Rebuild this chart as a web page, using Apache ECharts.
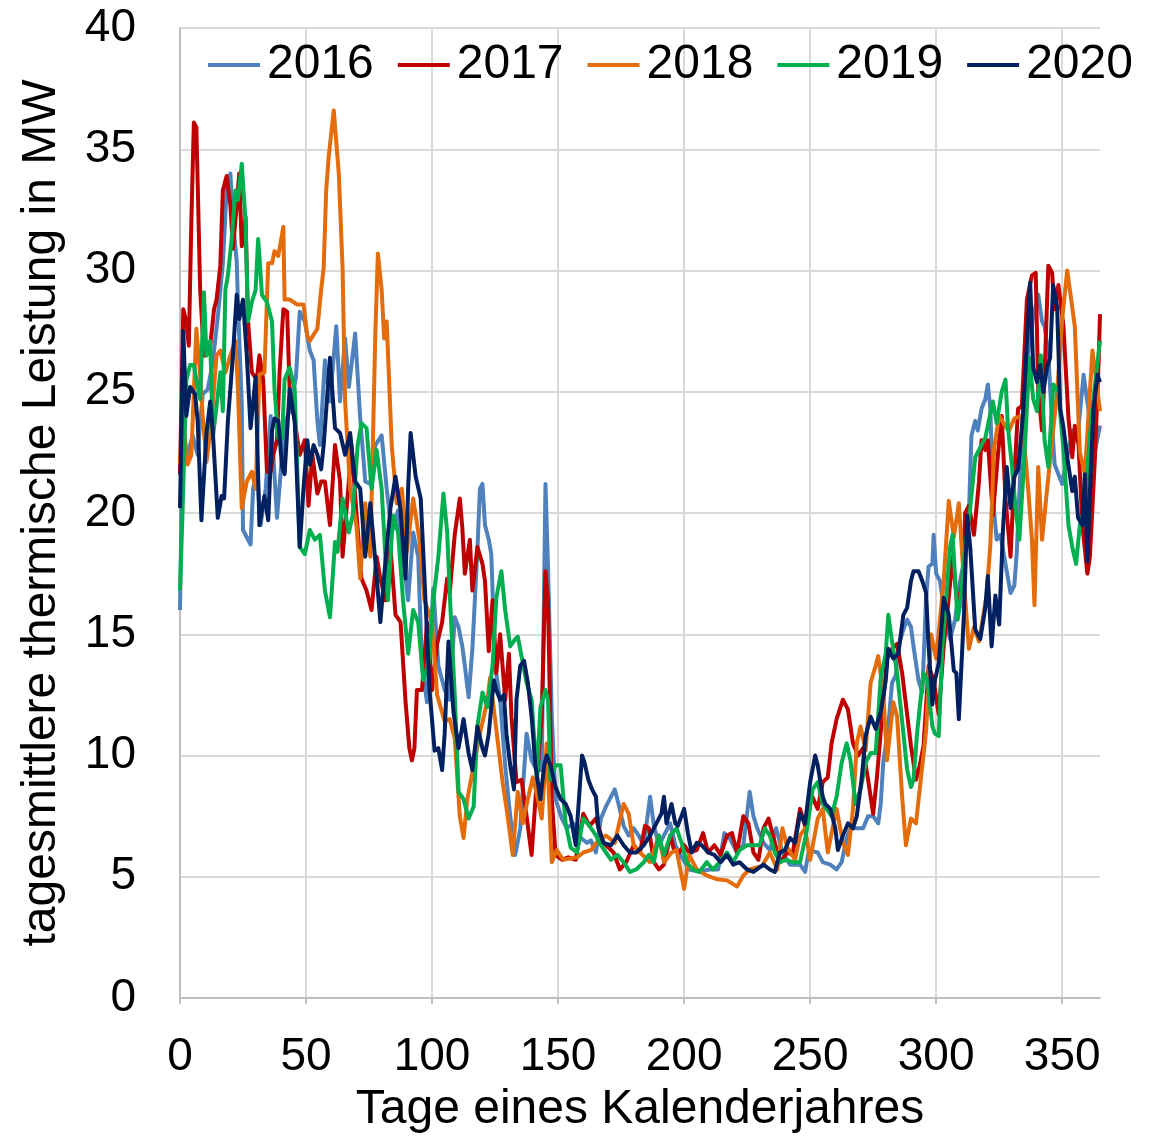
<!DOCTYPE html>
<html>
<head>
<meta charset="utf-8">
<script src="https://cdn.jsdelivr.net/npm/echarts@6/dist/echarts.min.js"></script>
<style>
  html, body { margin: 0; padding: 0; background: #fff; }
  #chart { width: 1155px; height: 1139px; }
</style>
</head>
<body>
<div id="chart"></div>
<script>
// day of year -> daily mean thermal power (MW)
var years = ['2016', '2017', '2018', '2019', '2020'];
var colors = ['#4f81bd', '#c00000', '#e46c0a', '#00b050', '#002060'];
var xTicks = [0, 50, 100, 150, 200, 250, 300, 350];

var s2016 = [[0,16],[1,23.1],[3,22.4],[5,23.2],[7,22.4],[9,24.9],[11,25.1],[13,26.2],[15,28.1],[17,30.3],[18.5,33.3],[20,34],[21,32],[22.5,30.4],[23,28.6],[24.5,24.5],[25,19.3],[26.5,19],[28,18.7],[29,21],[30.5,21.7],[32,19.5],[34,21],[36,24],[37,22.4],[38.5,19.8],[40.5,22.4],[42,23.8],[44,24.4],[46,25.6],[47.5,28.3],[49.5,27.9],[51.5,26.7],[53,26.3],[54.5,23.8],[55.5,22.8],[57.5,26.3],[59.5,24.6],[62,27.7],[63.5,24.6],[65.5,27.2],[67,25.2],[69.5,27.4],[71.5,23.9],[73.5,21.3],[75.5,21.2],[77.5,22.8],[80,23.2],[82,21],[84,19.2],[86.5,20.1],[88.5,18.2],[90.5,16.4],[92.5,19.2],[94.5,18.2],[96,13.7],[98,12.2],[100.5,16.9],[102.5,13.7],[105,12.7],[107,12.3],[109,15.7],[110.5,15.3],[112,14.5],[113,13.7],[114.5,12.4],[116,14.4],[118,18.5],[119,21],[120,21.2],[121,19.5],[122.5,18.9],[123.5,18.3],[125,13.7],[127,12.3],[129,9.6],[131,7.5],[133,5.9],[135,7],[137.5,10.9],[139.5,9.8],[141.5,9.4],[143.5,9.4],[145,21.2],[146,17.8],[147.5,11.6],[149,8.2],[151.5,7.4],[153.5,7],[156,7.2],[159,6.6],[161.5,6.4],[163,6.5],[165,6],[167,7.4],[169,7.9],[172.5,8.6],[174,8],[176,7.1],[178,6.7],[180,7],[182,6.7],[184,6.3],[186.5,8.3],[188,7.1],[190,6.3],[192,6.7],[194.5,7.2],[196.5,6.3],[198.5,5.9],[202,5.3],[206,5.2],[210,5.3],[213.5,5.3],[216,6.8],[218,6.6],[221,6],[223.5,6.3],[226,8.5],[227.5,7.5],[229,7],[231.5,6.4],[234,6.1],[236.5,7],[239,6],[242,5.5],[246,5.5],[248,5.2],[249.5,6.1],[253,6],[255,5.6],[258,5.5],[260.5,5.3],[262.5,5.6],[264.5,6.6],[266,7],[268.5,7],[271,7],[273,7.5],[275,7.5],[277,7.2],[278,8],[279,9.7],[281,11.2],[282.5,13],[284,13.3],[285,14.5],[287,15.2],[288.5,15.6],[290,15.3],[291,14.5],[293,13.1],[294.5,12.6],[296,16.5],[297,17.8],[298.5,17.9],[299,19.1],[300,17.5],[301.5,17.2],[303.5,15.8],[305.5,14.8],[307.5,15.6],[309.5,17.2],[311,18],[313,20],[314,23.2],[315.5,23.8],[316.5,23.4],[318,24.3],[319.5,24.7],[320.5,25.3],[321.5,24.3],[322.5,20.6],[324,18.9],[325.5,19.1],[327.5,17.9],[329.5,16.7],[331,17],[332,18.4],[334.5,24.4],[336.5,26.6],[338.5,28.1],[340.5,29],[342,27.9],[343,27.7],[344.5,26.6],[346,23.6],[347,22],[348.5,21.6],[350,21.2],[352,22.3],[354,23.4],[356,23],[358.5,25.7],[360.5,24.2],[362.5,22.3],[365,23.6]];

var s2017 = [[0,21.6],[1.3,28.4],[2.5,27.9],[3.5,26.9],[4.5,32],[5.5,36.1],[6.5,35.9],[8,29.2],[9.5,26.5],[10.5,26.5],[12,26.9],[13.5,28.4],[14.5,28.8],[16,30.2],[17,33.3],[18.5,33.9],[20,32.7],[21,30.9],[22.5,32.7],[23.5,34],[24.5,31],[26,32.2],[27,27.9],[28.5,25.8],[30.5,25.5],[31.5,26.5],[33,25.5],[34.5,21.7],[36,21.7],[37,22.4],[38.5,23],[39.5,25.8],[41,28.4],[42.5,28.3],[43.5,25.1],[45.5,23.8],[47.5,22.4],[49.5,23],[51,20.3],[52.5,22.4],[54.5,20.8],[56,21.3],[57.5,21.3],[59.5,19.5],[61.5,22.8],[63.5,21.3],[64.5,18.2],[67,21.3],[68,22.8],[70,20],[72,17.3],[74,16.8],[76,16],[78,18.2],[79.5,17.3],[81.5,16.4],[83.5,18.6],[85.5,15.8],[87.5,15.5],[89.5,12.2],[91,10.3],[92,9.8],[93,10.3],[94,12.7],[96,12.7],[98,15.5],[100,12.7],[102,14.6],[104,15.5],[106,17.3],[107,16.7],[109,19.1],[111,20.6],[112,19.4],[113,17.5],[115,18.9],[116,16.8],[118,18.6],[120,17.9],[121,17.2],[122.5,14.3],[124,16.4],[125.5,13.4],[127,15],[129,12.3],[130.5,14.2],[131.5,11.6],[133.5,8.9],[135.5,9],[137.5,7.5],[139.5,5.9],[141.5,8.9],[143.5,11.6],[145,17.6],[146,16.4],[147.5,8.2],[149,5.9],[151.5,5.7],[154,5.8],[157,5.7],[160,7.6],[162.5,7.1],[165,7.4],[168,6.4],[172,6],[174.5,5.3],[177,5.6],[180,6.3],[182.5,6],[184.5,7.1],[186,7],[188,5.6],[190,5.3],[192,5.5],[194.5,6.7],[196,6.1],[198,6],[200,6.3],[202,6],[205,6.1],[207.5,6.8],[209.5,6],[212,6.3],[214.5,5.9],[217,6.7],[219,6.8],[221,6],[223.5,7.5],[225.5,7.2],[227.5,6],[229.5,5.7],[231.5,7],[233.5,7.4],[236,6.4],[238,5.6],[241,6],[243,5.9],[246,7.8],[248,7.1],[250,8.5],[253,7.8],[255,8.9],[257,9.1],[258.5,10.5],[260.5,11.5],[263,12.3],[265,11.9],[267,10.5],[269,10],[271,10.3],[273,9],[275,7.6],[276.5,9.1],[278.5,11.6],[280.5,14],[282.5,14.4],[284.5,14.6],[286.5,13.4],[288,12.1],[290,10.4],[292,9],[293.5,9.6],[295,10.4],[297,13.7],[299,13.1],[301,11.7],[303,14.5],[305,16.5],[306.5,18.2],[308.5,16.1],[310.5,17.2],[311.5,20],[313,20.3],[315,19.1],[317,21.3],[318,23],[319.5,22.6],[320.5,23],[322.5,19.9],[324.5,22.4],[326,24],[327.5,20.6],[329.5,18.2],[331,21.5],[332.5,24.3],[334,24.4],[336,28.8],[338,29.8],[339.5,29.9],[340.5,25],[342,23.4],[343,25.7],[344.5,30.2],[346,29.9],[347,28.4],[348.5,29.4],[350.5,27.7],[352.5,23.9],[354,22.3],[355,23.6],[356.5,22.8],[358,19.5],[360,17.5],[361,18.2],[363,22.3],[364.5,26.4],[365,28.2]];

var s2018 = [[0,22],[1.3,23.8],[3,22],[4.5,22.4],[6.5,27.6],[8,25.7],[9,24],[10.5,22.1],[12.5,23.8],[14.5,26.5],[16,26.7],[18,25.8],[20,26.5],[22,27.1],[23,25.1],[24.5,20.2],[26.5,21.3],[28.5,21.7],[30,21],[31.5,25.7],[33.5,25.8],[35,30.3],[36.5,30.3],[37.5,30.8],[39,30.6],[41,31.8],[41.5,28.8],[43.5,28.8],[46.5,28.6],[49,28.6],[50.5,27.3],[51.5,27.1],[54.5,27.6],[56,29.2],[57,30.1],[58,33.3],[59,34.7],[61,36.6],[63,34],[64.5,30.1],[65.5,24.6],[67.5,21],[70,19.5],[71.5,17.3],[73.5,20.4],[75.5,18.2],[77.5,27.4],[78.5,30.7],[80,29.2],[81,27.2],[82,27.9],[84,22.8],[86,20.4],[88,21],[90,18.4],[92.5,20.6],[95,18.9],[97,16.4],[100,15.5],[102,12.5],[105,11.4],[107,11.5],[109,10.7],[111,7.5],[112.5,6.6],[114,8.2],[116,9.3],[119,10.9],[122,12.3],[123,13.2],[125,11.5],[128,8.9],[130,7.5],[132,5.9],[134,8.5],[136,7.2],[138,8.2],[140,9.1],[142,8.2],[143.5,7.4],[145.5,10.5],[147.5,5.6],[149.5,6.1],[152,5.7],[157.5,5.8],[160,6],[163,6.1],[166,6.5],[169,6.7],[172.5,6.4],[176,8],[178,7.6],[180,6.3],[182.5,6],[186.5,5.6],[190,6.7],[192,5.6],[195,6],[197,6.1],[200,4.5],[202,5.9],[205,5.3],[209,5.05],[213,4.9],[217,4.85],[221,4.6],[223.5,5.05],[226,5.3],[231,5.45],[234,6],[237,5.3],[239,7],[241,6.2],[244,5.7],[246,6.7],[248,7],[250,5.7],[253,7.4],[255,7.8],[257,6],[258.5,6.8],[260.5,7.8],[263,6.4],[265,5.9],[267,7.8],[268.5,10.5],[270,11.2],[272,10.2],[274,13],[276,13.7],[277,14.1],[279,12.6],[280.5,9.8],[283,12.2],[284.5,11.6],[286.5,8.3],[288,6.3],[290,7.4],[292,7.2],[296,11],[298,15],[300,14],[303,17.2],[305,20.5],[307,19],[309,20.4],[311,17.2],[313,14.4],[315,15.3],[317,14.7],[320,16.6],[321.5,18.7],[323,22.7],[325,24],[328,23.5],[329,23.4],[331,23.9],[334,24],[336.5,21],[338,18.9],[339,16.2],[340.5,21.9],[342,18.9],[345,22],[348,25],[350,28],[352,30],[355,27.7],[357,22.5],[359,21.6],[362,26.7],[365,24.2]];

var s2019 = [[0,16.8],[1,20],[2.5,25.5],[4,26.1],[5.5,26.1],[6.5,25.5],[8,24.7],[9.5,29.1],[10.5,26.5],[12,27.1],[13,23.1],[14.5,24.4],[16,25.8],[17,24.2],[18,29.2],[19,29.8],[20.5,31.3],[22,33.3],[23,32.9],[24.5,34.4],[26,32],[27,27.9],[28.5,28.7],[30,29.2],[31,31.3],[31.5,30.6],[32.5,29],[34.5,28.7],[36.5,27.9],[37.5,25.1],[39,23.1],[40.5,23.1],[41.5,25.5],[43.5,26],[45.5,25.1],[47.5,18.6],[49.5,18.3],[51.5,19.3],[53.5,18.9],[55.5,19.1],[57.5,16.8],[59.5,15.7],[61.5,18.8],[62.5,18.4],[64.5,20.6],[67,19.2],[68.5,19.9],[70.5,22.8],[72,23.7],[74,23.5],[76,21],[78,22.6],[80,21],[81.5,18.2],[82.5,16.4],[84.5,19.9],[86.5,19.2],[88.5,16.4],[90.5,14.2],[92.5,16],[94.5,15.5],[96.5,13.1],[98.5,13.7],[100.5,16.4],[102.5,18.2],[104.5,20.8],[106,19.2],[107,16.7],[109,12.5],[110.5,8.5],[112.5,8.2],[114.5,7.4],[116.5,7.9],[118,11.2],[120,12.6],[122,12],[124,13.7],[125.5,16.5],[127.5,17.6],[129,16],[131,14.5],[133,14.8],[134,14.9],[135.5,14.1],[137.5,13],[139.5,12.3],[141.5,9.1],[143,12],[145,12.7],[146,12.3],[147,9],[149,9.6],[151,9.6],[153,7.2],[155,6.2],[157.5,6],[160,7.4],[162.5,7.1],[165,6.7],[167,6.3],[169,6],[171,5.7],[173.5,5.9],[176,5.6],[178.5,5.2],[181,5.3],[184,5.6],[186,5.9],[188,5.6],[190,6.7],[192,5.9],[194.5,6.7],[197,7],[199,6.4],[201,5.6],[203.5,5.3],[206,5.2],[209,5.6],[211.5,5.3],[214,5.6],[217,6],[219.5,5.6],[222,6.1],[225,6.3],[227.5,6.3],[230,6.3],[232,7],[234,6.7],[236,6],[238,5.6],[240.5,5.7],[243,5.6],[246,5.6],[248.5,6.8],[251,8.6],[253,8.9],[255,8],[256.5,7.8],[258.5,7.5],[260.5,8.3],[262.5,9.7],[264.5,10.5],[266,9.8],[268,8],[270,8.6],[272,9.7],[274,10.1],[276,10.1],[278,13.2],[280,14.2],[281,15.8],[282.5,14.7],[284.5,13.4],[286.5,11.4],[288.5,9.4],[290,8.7],[291,9],[292.5,11],[293.5,12],[295,13.4],[296.5,13.1],[298.5,11.2],[299.5,10.9],[301,10.8],[302.5,14.5],[304.5,17.2],[305.5,18.6],[306.5,19.1],[308.5,15.6],[309.5,16.2],[311.5,18.6],[313.5,20.2],[315.5,22.3],[317.5,22.7],[319.5,23.1],[320.5,23.6],[322.5,24.6],[324,23.7],[326,25],[327.5,25.5],[328.5,23.5],[330,22],[331.5,20.2],[333,18.9],[335,22.3],[337,26.4],[338.5,24.7],[340,24.2],[341.5,26.5],[343,23],[344.5,21.9],[346.5,25.3],[348.5,25],[350.5,22.6],[352.5,19.5],[354,18.6],[355.5,17.9],[357,19.5],[359,20.2],[361,23.2],[363,25.3],[365,27.1]];

var s2020 = [[0,20.2],[1.3,27.5],[2.5,24],[4,25.2],[6,24.9],[7,23.8],[8.5,19.7],[10.5,23.3],[12,24.6],[13,23.4],[15,19.8],[16.5,20.7],[17.5,20.6],[19,23.8],[21,26.5],[22.5,29],[23.5,28],[25,28.8],[26.5,26.5],[28,23.5],[30,25.6],[31.5,19.5],[33.5,20.7],[35,19.7],[36.5,23.4],[37.5,23.9],[39,23.8],[40.5,21.9],[41.5,21.6],[43.5,25.1],[45.5,23.8],[47.5,18.6],[49,21],[50.5,23],[51.5,22],[53,22.8],[54.5,22.4],[56,21.8],[57,22.8],[59.5,26.4],[61.5,23.5],[63.5,23.3],[65.5,22.4],[67.5,23.3],[69.5,21.3],[71.5,21],[73.5,18.2],[75.5,20.4],[77.5,18],[79.5,15.5],[81.5,18],[83.5,20.2],[85.5,21.5],[87.5,20.1],[89.5,17.3],[90.5,21],[91.5,23.3],[93.5,21.5],[95.5,20.6],[97,17.3],[99,12.7],[101,10.2],[102.5,10.3],[104,9.4],[105,10.9],[106.5,14.7],[108.5,11.8],[110.5,10.3],[112.5,11.5],[114.5,10.1],[116,9.4],[118,11.2],[120,10.3],[121,10],[122.5,10.9],[124.5,13.1],[125.5,12.7],[127,12.3],[128.5,12.5],[129.5,10.9],[131,9.6],[132.5,8.6],[133.5,12.3],[135,13.7],[136.5,13.9],[138,13],[139.5,11.6],[141,9.6],[143,8.2],[144.5,9.6],[145.5,10],[147,9.6],[149,8.7],[151,8.2],[153,8],[155,7.5],[157,6.3],[158,7.8],[159.5,10],[160.5,9.7],[162,9],[163.5,8.6],[165,8.3],[166,7],[168,6.4],[171,6.3],[173.5,6.7],[176,6.3],[178.5,6],[181,6],[184,6.3],[186.5,6.7],[189,7.2],[191,7.6],[192,8.3],[193,7.2],[195,8],[196.5,7.2],[197.5,7.1],[200,7.8],[201.5,6.8],[203,6],[205,6.4],[207,6.3],[209.5,6],[212,5.9],[214.5,5.6],[217,5.9],[219.5,5.5],[222,5.6],[225,5.3],[227.5,5.2],[231.5,5.5],[234,5.3],[236,5.2],[238,6],[240,6.1],[242,6.6],[244,6.4],[246,7.6],[248,7.2],[250,8.9],[252,10],[253,9.6],[255,8.3],[256,8],[258,7.8],[260,7],[261,6.1],[263,6.7],[265,7.2],[267,7],[268.5,7.5],[270.5,9.1],[272,10.8],[274,11.6],[276,11.1],[278,11.8],[280,13.1],[281,14.4],[283,14],[285,14.2],[287,15.8],[288.5,16.1],[290,17.2],[291,17.6],[293,17.6],[294.5,17.2],[296,16.7],[297,14.5],[298.5,12.1],[299.5,13.1],[301,13.8],[303,16.5],[305,15.8],[307,13.5],[308,13.4],[309,11.5],[311,15.8],[312.3,19.9],[313.5,18.6],[315.5,15.2],[317.5,14.8],[319.5,16.1],[320.5,17.4],[322,14.5],[323.5,16.6],[325,15.4],[326.5,19.3],[328,21.9],[329.5,20.2],[331,21.5],[332.5,21.8],[334.5,24.1],[336,27],[337.3,29.5],[338.5,26],[340,25.4],[341.3,26.1],[342.5,25],[344,26],[345.2,26.4],[346.4,29.4],[348,28.5],[349.2,24.3],[350.4,23.6],[352,22.3],[354,20.9],[355,21.5],[356.3,19.8],[358,19.5],[359,21.6],[360,18],[361,20.9],[362.4,24.3],[364,25.7],[365,25.4]];

var allSeries = [s2016, s2017, s2018, s2019, s2020];

var font = 'Liberation Sans, Arial, sans-serif';
var chart = echarts.init(document.getElementById('chart'), null, { renderer: 'canvas' });

chart.setOption({
    animation: false,
    backgroundColor: '#ffffff',
    color: colors,
    textStyle: { fontFamily: font, color: '#000' },
    grid: { left: 180, right: 55, top: 28, bottom: 136, containLabel: false },
    legend: {
        data: years,
        left: 208,
        top: 41,
        padding: 0,
        itemGap: 24,
        itemWidth: 52,
        itemHeight: 4,
        icon: 'rect',
        textStyle: { fontSize: 48, color: '#000', fontFamily: font, padding: [0, 0, 0, 2] }
    },
    xAxis: {
        type: 'value',
        min: 0,
        max: 365,
        interval: 50,
        name: 'Tage eines Kalenderjahres',
        nameLocation: 'middle',
        nameGap: 88,
        nameTextStyle: { fontSize: 48, color: '#000', fontFamily: font },
        axisLine: { show: true, lineStyle: { color: '#bfbfbf', width: 2 } },
        axisTick: { show: true, length: 6, customValues: xTicks, lineStyle: { color: '#bfbfbf', width: 2 } },
        axisLabel: { fontSize: 46, color: '#000', margin: 36, customValues: xTicks, fontFamily: font },
        splitLine: { show: true, lineStyle: { color: '#d9d9d9', width: 2 } }
    },
    yAxis: {
        type: 'value',
        min: 0,
        max: 40,
        interval: 5,
        name: 'tagesmittlere thermische Leistung in MW',
        nameLocation: 'middle',
        nameGap: 114,
        nameTextStyle: { fontSize: 48, color: '#000', fontFamily: font },
        axisLine: { show: true, lineStyle: { color: '#bfbfbf', width: 2 } },
        axisTick: { show: false },
        axisLabel: { fontSize: 46, color: '#000', margin: 44, fontFamily: font },
        splitLine: { show: true, lineStyle: { color: '#d9d9d9', width: 2 } }
    },
    series: years.map(function (y, i) {
        return {
            name: y,
            type: 'line',
            data: allSeries[i],
            showSymbol: false,
            symbol: 'none',
            smooth: false,
            lineStyle: { width: 4, color: colors[i], join: 'round' },
            itemStyle: { color: colors[i] },
            z: 2 + i
        };
    })
});
</script>
</body>
</html>
